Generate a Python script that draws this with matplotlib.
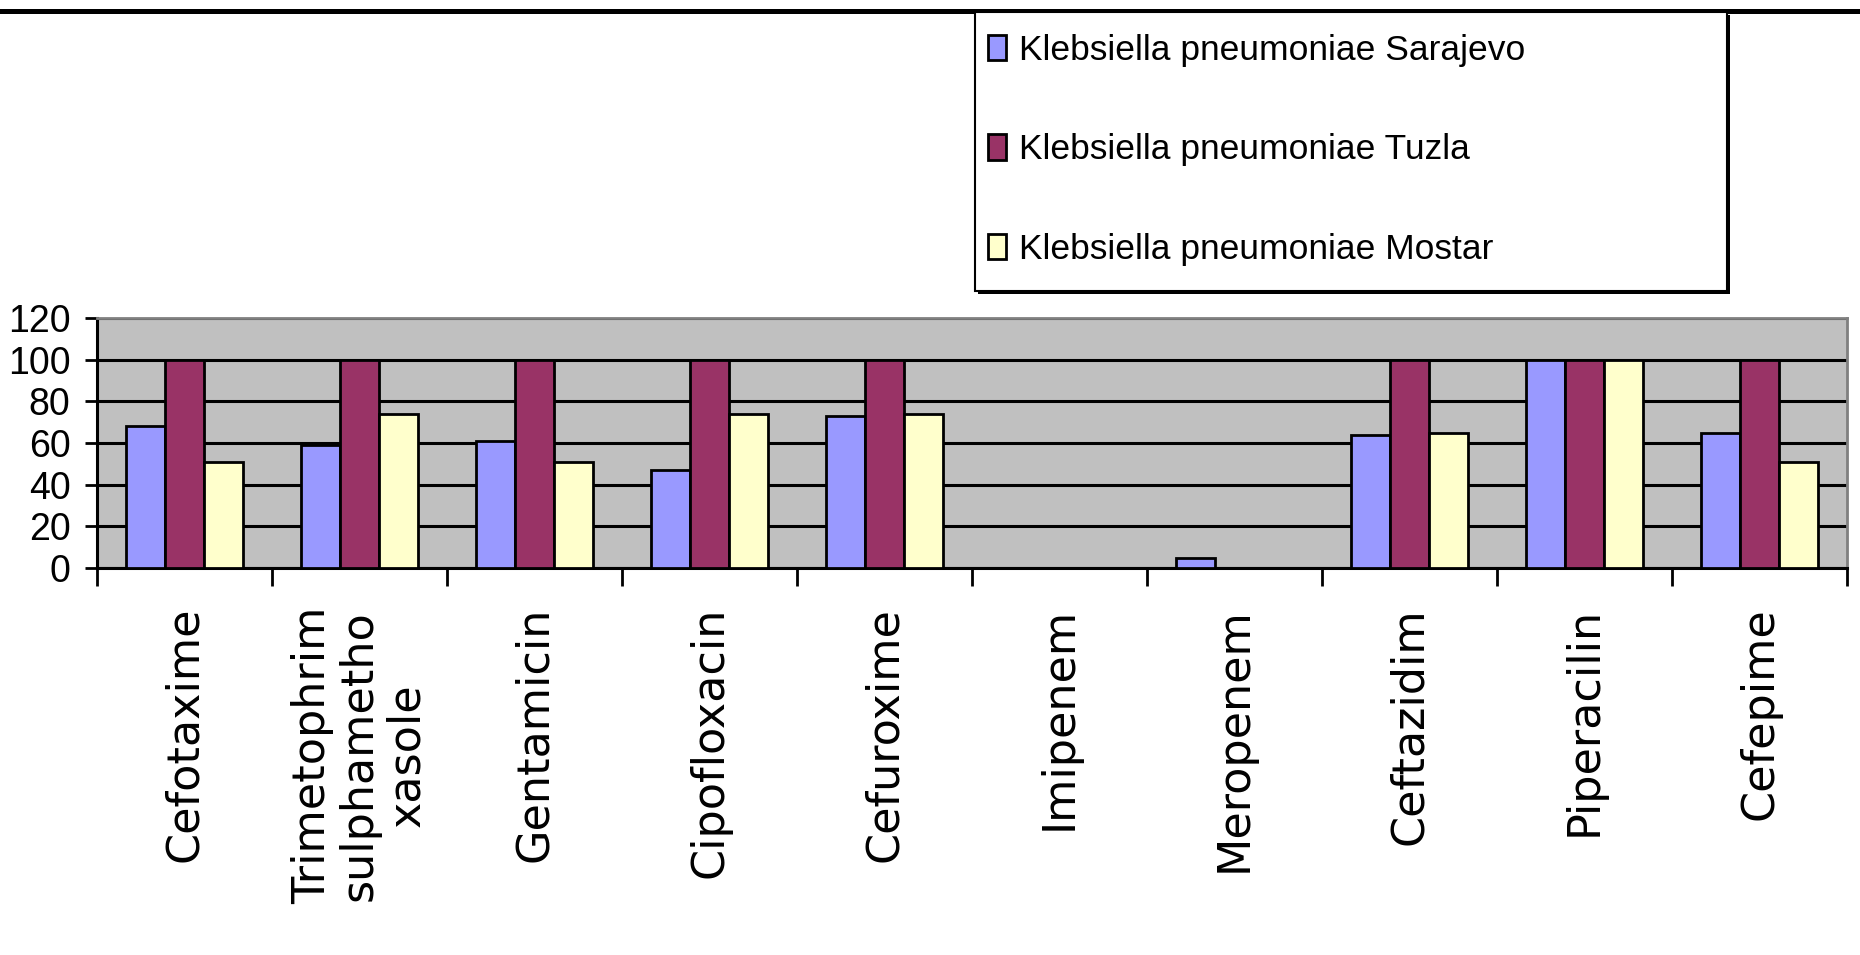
import matplotlib
matplotlib.use("Agg")
import matplotlib.pyplot as plt
from matplotlib.lines import Line2D
from matplotlib.patches import Rectangle
import numpy as np

categories = ["Cefotaxime", "Trimetophrim\nsulphametho\nxasole", "Gentamicin",
              "Cipofloxacin", "Cefuroxime", "Imipenem", "Meropenem",
              "Ceftazidim", "Piperacilin", "Cefepime"]
series_names = ["Klebsiella pneumoniae Sarajevo",
                "Klebsiella pneumoniae Tuzla",
                "Klebsiella pneumoniae Mostar"]
sarajevo = [68, 59, 61, 47, 73, 0, 5, 64, 100, 65]
tuzla = [100, 100, 100, 100, 100, 0, 0, 100, 100, 100]
mostar = [51, 74, 51, 74, 74, 0, 0, 65, 100, 51]
y_ticks = [0, 20, 40, 60, 80, 100, 120]

colors = ["#9999FF", "#993366", "#FFFFCC"]

plt.rcParams['font.family'] = ['Liberation Sans', 'DejaVu Sans']

W, H = 1860, 955
fig = plt.figure(figsize=(W / 100, H / 100), dpi=100)
fig.patch.set_facecolor("white")

# top page line
fig.add_artist(Line2D([0, 1], [1 - 11 / H, 1 - 11 / H], transform=fig.transFigure,
                      color="black", linewidth=3.6))

# legend frame with shadow
lx0, ly0, lx1, ly1 = 975, 12, 1727, 291
fig.add_artist(Rectangle(((lx0 + 3) / W, 1 - (ly1 + 3) / H), (lx1 - lx0) / W, (ly1 - ly0) / H,
                         transform=fig.transFigure, facecolor="black", edgecolor="none",
                         zorder=1))
fig.add_artist(Rectangle((lx0 / W, 1 - ly1 / H), (lx1 - lx0) / W, (ly1 - ly0) / H,
                         transform=fig.transFigure, facecolor="white", edgecolor="black",
                         linewidth=1.5, zorder=2))

ax = fig.add_axes([97 / W, 1 - 568 / H, 1750 / W, 250 / H])
ax.set_facecolor("#C0C0C0")

n = len(categories)
centers = np.arange(n) + 0.5
bw = 1 / 4.5
for k, (vals, c, name) in enumerate(zip([sarajevo, tuzla, mostar], colors, series_names)):
    ax.bar(centers + (k - 1) * bw, vals, width=bw, color=c, edgecolor="black",
           linewidth=2.0, label=name, zorder=3)

ax.set_xlim(0, n)
ax.set_ylim(0, 120)
ax.set_yticks(y_ticks)
ax.set_yticklabels([str(v) for v in y_ticks], fontsize=27)
ax.yaxis.grid(True, color="black", linewidth=2.2, zorder=1)
ax.set_axisbelow(True)

ax.set_xticks(centers)
ax.set_xticklabels(categories, rotation=90, fontsize=32, va="top", ha="center",
                   multialignment="center", linespacing=1.12,
                   family=["DejaVu Sans"])
ax.set_xticks(np.arange(n + 1), minor=True)
ax.tick_params(axis="x", which="major", length=0, pad=28)
ax.tick_params(axis="x", which="minor", length=13, width=2, color="black", direction="out")
ax.tick_params(axis="y", which="major", length=9, width=2, pad=10, direction="out")

for s in ["left", "bottom"]:
    ax.spines[s].set_color("black")
    ax.spines[s].set_linewidth(2.2)
for s in ["top", "right"]:
    ax.spines[s].set_color("#808080")
    ax.spines[s].set_linewidth(2.0)

handles, labels = ax.get_legend_handles_labels()
leg = fig.legend(handles, labels, loc="upper left", bbox_to_anchor=(lx0 / W, 1 - 21 / H),
                 bbox_transform=fig.transFigure, borderaxespad=0,
                 prop={"family": ["Liberation Sans"], "size": 25.5},
                 handlelength=0.5, handleheight=0.72, handletextpad=0.38,
                 labelspacing=1.87, borderpad=0.37, frameon=False)
leg.set_zorder(5)
for h in leg.legend_handles:
    h.set_linewidth(2.0)

fig.savefig("out.png", dpi=100, facecolor="white")
